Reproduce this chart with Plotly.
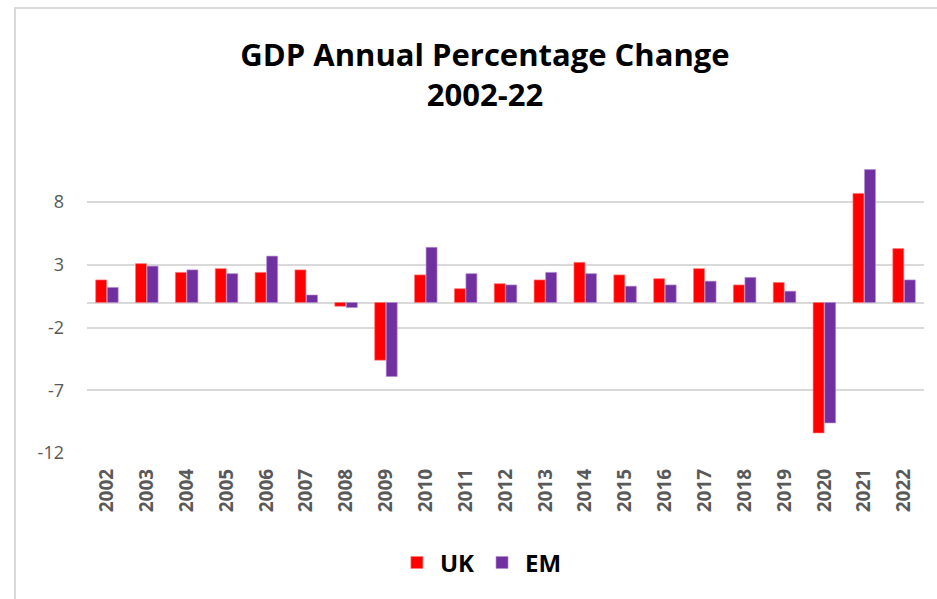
import plotly.graph_objects as go

years = [str(y) for y in range(2002, 2023)]
uk = [1.8, 3.1, 2.4, 2.7, 2.4, 2.6, -0.3, -4.6, 2.2, 1.1, 1.5, 1.8, 3.2, 2.2, 1.9, 2.7, 1.4, 1.6, -10.4, 8.7, 4.3]
em = [1.2, 2.9, 2.6, 2.3, 3.7, 0.6, -0.4, -5.9, 4.4, 2.3, 1.4, 2.4, 2.3, 1.3, 1.4, 1.7, 2.0, 0.9, -9.6, 10.6, 1.8]
y_ticks = [-12, -7, -2, 3, 8]
y_tick_text = ["-12", "-7", "-2", "3", "8"]

FONT = "Open Sans"
GRAY = "#595959"
GRID = "#d9d9d9"

fig = go.Figure()
fig.add_trace(go.Bar(name="UK", x=years, y=uk, marker=dict(color="#FF0000", line=dict(color="rgba(255,120,120,0.8)", width=0.8))))
fig.add_trace(go.Bar(name="EM", x=years, y=em, marker=dict(color="#7030A0", line=dict(color="rgba(180,140,210,0.8)", width=0.8))))

fig.update_layout(
    width=937, height=599,
    margin=dict(l=87, r=13, t=152, b=146),
    paper_bgcolor="white", plot_bgcolor="white",
    barmode="group", bargap=0.42, bargroupgap=0.05,
    title=dict(text="<b>GDP Annual Percentage Change<br>2002-22</b>",
               x=485/937, xanchor="center", xref="container",
               y=1-66/599, yanchor="top", yref="container",
               font=dict(family=FONT, size=31, color="black")),
    legend=dict(orientation="h", x=0.47, xanchor="center", y=-0.365, yanchor="middle",
                font=dict(family=FONT, size=24, color="black", weight="bold"),
                itemwidth=36, traceorder="normal"),
    showlegend=True,
)
fig.update_yaxes(range=[-12, 12], tickvals=y_ticks, ticktext=y_tick_text, showgrid=True, gridcolor=GRID, gridwidth=1.5,
                 zeroline=True, zerolinecolor=GRID, zerolinewidth=1.5,
                 tickfont=dict(family=FONT, size=18, color=GRAY), ticklabelstandoff=22, showline=False)
fig.update_xaxes(tickangle=-90, tickfont=dict(family=FONT, size=19, color=GRAY, weight="bold"),
                 showgrid=False, showline=False, ticklabelstandoff=11)
fig.add_shape(type="rect", xref="paper", yref="paper", x0=(15-87)/837, x1=1.2, y0=-0.7, y1=(453-8)/301,
              line=dict(color=GRID, width=2), fillcolor="rgba(0,0,0,0)", layer="below")

fig.write_html("out.html", config={"displayModeBar": False},
               post_script="document.body.style.margin='0';")
